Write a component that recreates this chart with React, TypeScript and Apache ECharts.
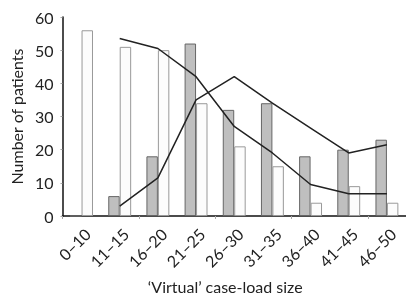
import React, { useEffect, useRef } from "react";
import * as echarts from "echarts";

const categories = ["0–10", "11–15", "16–20", "21–25", "26–30", "31–35", "36–40", "41–45", "46–50"];
const grayBars = [0, 6, 18, 52, 32, 34, 18, 20, 23];
const whiteBars = [56, 51, 50, 34, 21, 15, 4, 9, 4];
const lineA = [null, 53.5, 50.5, 42, 27, 19, 9.5, 6.7, 6.7];
const lineB = [null, 3, 11.5, 35, 42, 34, 26.5, 19, 21.5];
const yTicks = [0, 10, 20, 30, 40, 50, 60];

const FONT = "Lato, 'Open Sans', sans-serif";

export default function App() {
  const ref = useRef<HTMLDivElement>(null);
  useEffect(() => {
    if (!ref.current) return;
    const chart = echarts.init(ref.current, null, { renderer: "svg" });
    chart.setOption({
      animation: false,
      grid: { left: 60, right: 0, top: 17, bottom: 78, containLabel: false },
      xAxis: {
        type: "category",
        data: categories,
        name: "‘Virtual’ case-load size",
        nameLocation: "middle",
        nameGap: 62,
        nameTextStyle: { fontFamily: FONT, fontSize: 16, color: "#222", padding: [0, 18, 0, 0] },
        axisLine: { lineStyle: { color: "#111", width: 1.5 } },
        axisTick: { show: true, length: 3, lineStyle: { color: "#aaa" } },
        axisLabel: { show: false },
      },
      yAxis: {
        type: "value",
        min: 0,
        max: 60,
        interval: 10,
        name: "Number of patients",
        nameLocation: "middle",
        nameGap: 38,
        nameTextStyle: { fontFamily: FONT, fontSize: 16, color: "#222" },
        axisLine: { show: true, lineStyle: { color: "#111", width: 1.5 } },
        axisTick: { show: true, length: 2, lineStyle: { color: "#aaa" } },
        axisLabel: {
          fontFamily: FONT,
          fontSize: 16,
          color: "#222",
          margin: 9,
          formatter: (v: number) => (yTicks.includes(v) ? String(v) : ""),
        },
        splitLine: { show: false },
      },
      series: [
        {
          type: "bar",
          data: grayBars,
          barGap: "0%",
          barCategoryGap: "40%",
          itemStyle: { color: "#bfbfbf", borderColor: "#666", borderWidth: 1 },
        },
        {
          type: "bar",
          data: whiteBars,
          itemStyle: { color: "#fcfcfc", borderColor: "#999", borderWidth: 1 },
        },
        {
          type: "line",
          data: lineA,
          showSymbol: false,
          symbol: "none",
          lineStyle: { color: "#222", width: 1.5 },
          z: 5,
        },
        {
          type: "line",
          data: lineB,
          showSymbol: false,
          symbol: "none",
          lineStyle: { color: "#222", width: 1.5 },
          z: 5,
        },
      ],
    });
    const y0 = chart.convertToPixel({ yAxisIndex: 0 }, 0) as number;
    const labels = categories.map((c) => {
      const x = chart.convertToPixel({ xAxisIndex: 0 }, c) as number;
      return {
        type: "text",
        x: x + 6,
        y: y0 + 15,
        rotation: Math.PI / 4,
        style: {
          text: c,
          fontFamily: FONT,
          fontSize: 16,
          fill: "#222",
          align: "right",
          verticalAlign: "middle",
        },
      };
    });
    chart.setOption({ graphic: labels });
    return () => chart.dispose();
  }, []);
  return <div ref={ref} style={{ width: 406, height: 299, position: "fixed", left: 0, top: 0 }} />;
}
